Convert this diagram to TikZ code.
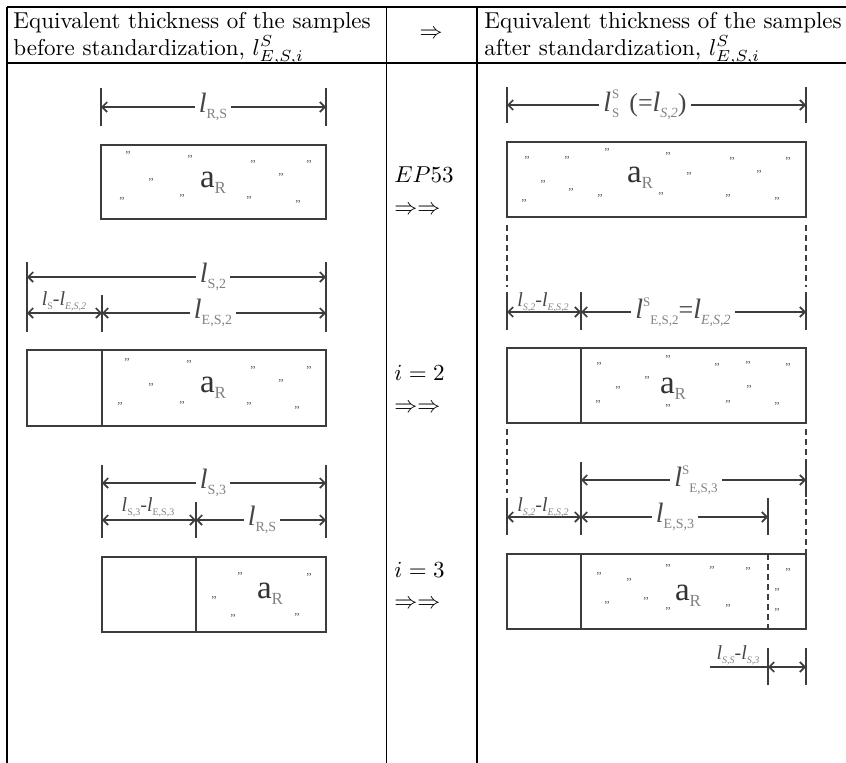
\documentclass[tikz,border=0pt]{standalone}
\usepackage{fontspec}
\newfontfamily\tnr{Liberation Serif}
\usetikzlibrary{arrows.meta}
\definecolor{lingray}{RGB}{60,60,60}
\definecolor{labgray}{RGB}{70,70,70}
\definecolor{subgray}{RGB}{130,130,130}
\definecolor{dotgray}{RGB}{85,85,85}
\newcommand\Lb[1]{{\fontsize{28}{28}\selectfont\itshape l}{\fontsize{14}{14}\selectfont\color{subgray}\raisebox{-6pt}{#1}}}
\newcommand\Lbs[2]{{\fontsize{28}{28}\selectfont\itshape l}\kern1pt\makebox[0pt][l]{\fontsize{13}{13}\selectfont\color{subgray}\raisebox{13pt}{#1}}{\fontsize{13}{13}\selectfont\color{subgray}\raisebox{-6pt}{#2}}}
\newcommand\Lbq[2]{{\fontsize{28}{28}\selectfont\itshape l}{\fontsize{13}{13}\selectfont\color{subgray}\raisebox{12pt}{#1}\raisebox{-6pt}{#2}}}
\newcommand\Ls[1]{{\fontsize{20}{20}\selectfont\itshape l}{\fontsize{10}{10}\selectfont\color{subgray}\raisebox{-4pt}{#1}}}
\newcommand\Lmin{{\fontsize{20}{20}\selectfont -}}
\newcommand\aR{{\fontsize{33}{33}\selectfont a}{\fontsize{17}{17}\selectfont\color{subgray}\raisebox{-6pt}{R}}}
\begin{document}
\begin{tikzpicture}[x=1pt,y=-1pt,
  tab/.style={draw=black,line width=1.5pt},
  ltx/.style={font=\fontsize{10}{12}\selectfont,scale=2.3,inner sep=0pt},
  tk/.style={draw=lingray,line width=1.2pt},
  dim/.style={draw=lingray,line width=1.7pt,{Straight Barb[length=5pt,width=10pt]}-{Straight Barb[length=5pt,width=10pt]}},
  ldr/.style={draw=lingray,line width=1.7pt},
  bx/.style={draw=lingray,line width=2pt},
  dsh/.style={draw=lingray,line width=1.5pt,dash pattern=on 6pt off 4pt},
  lab/.style={fill=white,inner xsep=4pt,inner ysep=1pt,text=labgray,font=\tnr},
  slab/.style={inner sep=0pt,text=labgray,font=\tnr},
  ar/.style={inner sep=0pt,text=black!80,font=\tnr},
  dt/.style={inner sep=0pt,text=dotgray,font=\tnr\fontsize{12}{12}\selectfont}]
\useasboundingbox (0,0) rectangle (846,763);
\fill[white] (0,0) rectangle (846,763);
% table
\draw[tab] (7,7) -- (846,7);
\draw[tab] (7,63) -- (846,63);
\draw[tab] (7,7) -- (7,763);
\draw[tab] (386.5,7) -- (386.5,763);
\draw[tab] (477,7) -- (477,763);
% header
\node[ltx,anchor=base west] (h1a) at (13,28) {Equivalent thickness of the samples};
\node[ltx,anchor=base west] (h1b) at (13,55) {before standardization, $l^S_{E,S,i}$};
\node[ltx] (hm) at (431,34) {$\Rightarrow$};
\node[ltx,anchor=base west] (h2a) at (484,28) {Equivalent thickness of the samples};
\node[ltx,anchor=base west] (h2b) at (484,55) {after standardization, $l^S_{E,S,i}$};
% middle column
\node[ltx,anchor=west] (m1) at (394,175) {$EP53$};
\node[ltx,anchor=west] (m2) at (394,210) {$\Rightarrow\Rightarrow$};
\node[ltx,anchor=west] (m3) at (394,373) {$i=2$};
\node[ltx,anchor=west] (m4) at (394,408) {$\Rightarrow\Rightarrow$};
\node[ltx,anchor=west] (m5) at (394,570) {$i=3$};
\node[ltx,anchor=west] (m6) at (394,604) {$\Rightarrow\Rightarrow$};
% ---------- left 1
\draw[tk] (101,88) -- (101,126);
\draw[tk] (326,88) -- (326,126);
\draw[dim] (101,107) -- (326,107);
\node[lab] (lrs1) at (213,107) {\Lb{R,S}};
\draw[bx] (101,145) rectangle (326,219);
\node[ar] (a1) at (213,183) {\aR};
\foreach \x/\y in {128/156,190/160,253/165,309/165,151/183,281/178,122/202,182/199,249/201,298/205}
  \node[dt] at (\x,\y) {\textquotedblright};
% ---------- left 2
\draw[tk] (27,262) -- (27,332);
\draw[tk] (326,262) -- (326,332);
\draw[tk] (102,295) -- (102,332);
\draw[dim] (27,277) -- (326,277);
\node[lab] (ls2) at (213,277) {\Lb{S,2}};
\draw[dim] (27,313) -- (102,313);
\node[slab] (lsd2) at (64,301) {\Ls{S}\Lmin\Ls{\textit{E,S,2}}};
\draw[dim] (102,313) -- (326,313);
\node[lab] (les2) at (213,313) {\Lb{E,S,2}};
\draw[bx] (27,350) rectangle (326,426);
\draw[bx] (102,350) -- (102,426);
\node[ar] (a2) at (213,388) {\aR};
\foreach \x/\y in {127/363,189/365,253/371,309/371,151/388,281/384,120/407,182/406,249/407,297/411}
  \node[dt] at (\x,\y) {\textquotedblright};
% ---------- left 3
\draw[tk] (102,465) -- (102,538);
\draw[tk] (326,465) -- (326,538);
\draw[tk] (196,502) -- (196,538);
\draw[dim] (102,483) -- (326,483);
\node[lab] (ls3) at (213,483) {\Lb{S,3}};
\draw[dim] (102,520) -- (196,520);
\node[slab] (lsd3) at (148,507) {\Ls{S,3}\Lmin\Ls{E,S,3}};
\draw[dim] (196,520) -- (326,520);
\node[lab] (lrs3) at (262,520) {\Lb{R,S}};
\draw[bx] (102,557) rectangle (326,632);
\draw[bx] (196,557) -- (196,632);
\node[ar] (a3) at (270,594) {\aR};
\foreach \x/\y in {240/577,309/578,214/601,233/619,297/618}
  \node[dt] at (\x,\y) {\textquotedblright};
% ---------- right 1
\draw[tk] (507,87) -- (507,123);
\draw[tk] (806,87) -- (806,123);
\draw[dim] (507,105) -- (806,105);
\node[lab] (rs) at (645,105) {\Lbs{S}{S}\quad{\fontsize{26}{26}\selectfont (=}\Lb{\textit{S,2}}{\fontsize{26}{26}\selectfont )}};
\draw[bx] (507,142) rectangle (806,217);
\node[ar] (b1) at (640,178) {\aR};
\foreach \x/\y in {527/161,567/161,607/153,668/157,732/162,788/162,543/185,571/193,689/177,759/175,524/204,600/199,661/197,728/199,777/202}
  \node[dt] at (\x,\y) {\textquotedblright};
\draw[dsh] (507,225) -- (507,287);
\draw[dsh] (806,225) -- (806,287);
% ---------- right 2
\draw[tk] (507,292) -- (507,330);
\draw[tk] (581,292) -- (581,330);
\draw[tk] (806,292) -- (806,330);
\draw[dim] (507,312) -- (581,312);
\node[slab] (rsd2) at (543,302) {\Ls{\textit{S,2}}\Lmin\Ls{\textit{E,S,2}}};
\draw[dim] (581,312) -- (806,312);
\node[lab] (res2) at (683,312) {\Lbq{S}{E,S,2}{\fontsize{26}{26}\selectfont =}\Lb{\textit{E,S,2}}};
\draw[bx] (507,348) rectangle (806,423);
\draw[bx] (581,348) -- (581,423);
\node[ar] (b2) at (673,389) {\aR};
\foreach \x/\y in {599/367,668/360,717/368,748/366,788/368,618/391,647/381,749/390,598/405,668/409,728/405,777/407}
  \node[dt] at (\x,\y) {\textquotedblright};
\draw[dsh] (507,429) -- (507,493);
\draw[dsh] (806,429) -- (806,553);
% ---------- right 3
\draw[tk] (581,462) -- (581,535);
\draw[tk] (507,498) -- (507,535);
\draw[tk] (768,498) -- (768,535);
\draw[tk] (806,462) -- (806,497);
\draw[dim] (581,480) -- (806,480);
\node[lab] (res3) at (696,480) {\Lbq{S}{E,S,3}};
\draw[dim] (507,517) -- (581,517);
\node[slab] (rsd3) at (543,507) {\Ls{\textit{S,2}}\Lmin\Ls{\textit{E,S,2}}};
\draw[dim] (581,517) -- (768,517);
\node[lab] (rles3) at (675,517) {\Lb{E,S,3}};
\draw[bx] (507,554) rectangle (806,629);
\draw[bx] (581,554) -- (581,629);
\draw[dsh] (768,554) -- (768,629);
\node[ar] (b3) at (688,596) {\aR};
\foreach \x/\y in {599/577,629/583,668/569,712/571,748/572,788/573,777/593,777/613,607/606,646/602,668/612,728/609}
  \node[dt] at (\x,\y) {\textquotedblright};
% bottom dimension
\draw[tk] (768,648) -- (768,685);
\draw[tk] (806,648) -- (806,685);
\draw[dim] (768,667) -- (806,667);
\draw[ldr] (710,667) -- (768,667);
\node[slab] (rss) at (738,655) {\Ls{\textit{S,S}}\Lmin\Ls{\textit{S,3}}};
\end{tikzpicture}
\end{document}
